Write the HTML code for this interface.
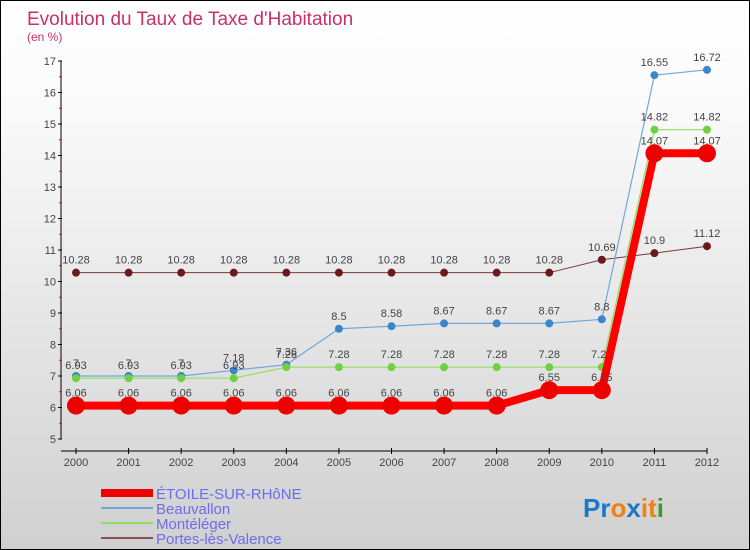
<!DOCTYPE html>
<html><head><meta charset="utf-8"><style>
body{margin:0}
#c{position:relative;width:748px;height:548px;border:1px solid #000;background:linear-gradient(#fff,#fafafa 20%,#d0d0d0);font-family:"Liberation Sans",sans-serif;overflow:hidden}
</style></head><body>
<div id="c">
<svg id="s" width="748" height="548" xmlns="http://www.w3.org/2000/svg" style="position:absolute;left:0;top:0">
<text x="26" y="24" font-size="19" fill="#c8306a">Evolution du Taux de Taxe d'Habitation</text>
<text x="26" y="40" font-size="12" fill="#c8306a">(en %)</text>
<g id="axes"></g><g id="series"></g>
<g font-size="15" fill="#6c6cf0">
<line x1="100" y1="492" x2="152" y2="492" stroke="#e00" stroke-width="8"/>
<text x="155" y="498">ÉTOILE-SUR-RHôNE</text>
<line x1="100" y1="507" x2="152" y2="507" stroke="#6fa8d8" stroke-width="2"/>
<text x="155" y="513">Beauvallon</text>
<line x1="100" y1="522" x2="152" y2="522" stroke="#8fe060" stroke-width="2"/>
<text x="155" y="528">Montéléger</text>
<line x1="100" y1="537" x2="152" y2="537" stroke="#8a5050" stroke-width="2"/>
<text x="155" y="543">Portes-lès-Valence</text>
</g>
<text x="582" y="516" font-size="26" font-weight="bold"><tspan fill="#1a78c8">Pr</tspan><tspan fill="#f08010">o</tspan><tspan fill="#1a78c8">x</tspan><tspan fill="#f08010">i</tspan><tspan fill="#f08010">t</tspan><tspan fill="#3a9a30">i</tspan></text>
</svg>
</div>
<script>
const years=[2000,2001,2002,2003,2004,2005,2006,2007,2008,2009,2010,2011,2012];
const yTicks=[5,6,7,8,9,10,11,12,13,14,15,16,17];
const etoile=[6.06,6.06,6.06,6.06,6.06,6.06,6.06,6.06,6.06,6.55,6.55,14.07,14.07];
const beauvallon=[7,7,7,7.18,7.36,8.5,8.58,8.67,8.67,8.67,8.8,16.55,16.72];
const monteleger=[6.93,6.93,6.93,6.93,7.28,7.28,7.28,7.28,7.28,7.28,7.28,14.82,14.82];
const portes=[10.28,10.28,10.28,10.28,10.28,10.28,10.28,10.28,10.28,10.28,10.69,10.9,11.12];
const NS="http://www.w3.org/2000/svg";
const xs=i=>75+i*(706-75)/(years.length-1);
const ys=v=>438-(v-5)*31.5;
function mk(p,t,a){const e=document.createElementNS(NS,t);for(const k in a)e.setAttribute(k,a[k]);p.appendChild(e);return e;}
const ax=document.getElementById('axes');
let l=mk(ax,'line',{x1:60,y1:60,x2:60,y2:438,stroke:'#000','stroke-width':1});


l=mk(ax,'line',{x1:60,y1:450,x2:706,y2:450,stroke:'#000','stroke-width':1});


yTicks.forEach(v=>{const y=ys(v);
 mk(ax,'line',{x1:57,y1:y,x2:61,y2:y,stroke:'#000'});
 if(v<17)mk(ax,'line',{x1:58,y1:y-15.75,x2:61,y2:y-15.75,stroke:'#f00'});
 const t=mk(ax,'text',{x:55,y:y+4,'font-size':11,'text-anchor':'end',fill:'#444'});t.textContent=v;
 
 
});
years.forEach((yr,i)=>{const x=xs(i);
 mk(ax,'line',{x1:x,y1:447,x2:x,y2:453,stroke:'#000'});
 const t=mk(ax,'text',{x:x,y:465,'font-size':11,'text-anchor':'middle',fill:'#444'});t.textContent=yr;
 
 
});
const sg=document.getElementById('series');
function series(data,name,color,w,r,dot){
 const g=mk(sg,'g',{});
 
 
 mk(g,'polyline',{points:data.map((v,i)=>xs(i)+','+ys(v)).join(' '),fill:'none',stroke:color,'stroke-width':w});
 data.forEach((v,i)=>{
  const c=mk(g,'circle',{cx:xs(i),cy:ys(v),r:r,fill:dot});
  
  
  const t=mk(g,'text',{x:xs(i),y:ys(v)-9,'font-size':11,'text-anchor':'middle',fill:'#444'});t.textContent=v;
  
  
 });
}
series(portes,'portes','#7a3a3a',1,4,'#6a1a1a');
series(beauvallon,'beauvallon','#6fa8d8',1.2,4,'#3a86c8');
series(monteleger,'monteleger','#90e060',1.2,4,'#70d040');
series(etoile,'etoile','#f00',8,9,'#e00');
</script>
</body></html>
